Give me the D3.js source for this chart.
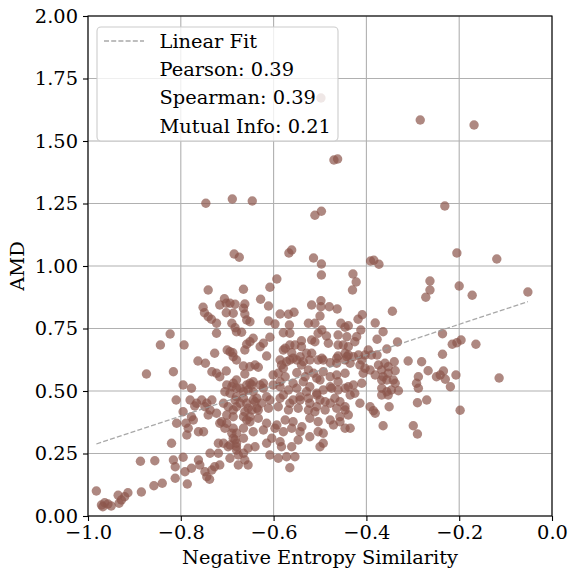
<!DOCTYPE html>
<html><head><meta charset="utf-8">
<script src="https://cdn.jsdelivr.net/npm/d3@7"></script>
<style>body{margin:0;background:#fff}svg{display:block}text{font-family:"DejaVu Serif",serif;fill:#000}</style>
</head><body><svg id="c" width="577" height="577"></svg>
<script>
// [negative entropy similarity, AMD]
const pairs = [
[-0.498,1.672],[-0.284,1.584],[-0.168,1.564],[-0.470,1.424],[-0.462,1.428],
[-0.746,1.251],[-0.689,1.268],[-0.646,1.260],[-0.511,1.203],[-0.497,1.219],[-0.231,1.240],
[-0.685,1.048],[-0.674,1.035],[-0.567,1.052],[-0.561,1.064],[-0.514,1.032],[-0.497,1.008],[-0.497,0.964],
[-0.593,0.948],[-0.608,0.915],[-0.665,0.907],[-0.741,0.904],
[-0.429,0.968],[-0.422,0.936],[-0.430,0.904],
[-0.391,1.020],[-0.384,1.023],[-0.373,1.007],
[-0.263,0.940],[-0.263,0.904],[-0.205,1.052],[-0.200,0.920],[-0.119,1.028],
[-0.172,0.883],[-0.052,0.896],
[-0.236,0.729],[-0.196,0.704],[-0.205,0.693],[-0.215,0.687],[-0.164,0.687],[-0.236,0.647],[-0.234,0.580],[-0.241,0.564],[-0.230,0.547],[-0.207,0.564],[-0.219,0.517],[-0.114,0.552],[-0.198,0.423],
[-0.272,0.875],[-0.344,0.819],[-0.409,0.805],[-0.418,0.787],[-0.439,0.761],[-0.381,0.772],[-0.412,0.744],[-0.364,0.737],[-0.377,0.707],[-0.421,0.717],[-0.425,0.697],[-0.439,0.677],[-0.333,0.696],
[-0.356,0.668],[-0.396,0.664],[-0.403,0.644],[-0.417,0.644],[-0.428,0.637],[-0.439,0.644],[-0.389,0.644],[-0.377,0.644],
[-0.446,0.624],[-0.410,0.624],[-0.414,0.604],[-0.340,0.617],[-0.310,0.620],[-0.281,0.617],
[-0.374,0.604],[-0.360,0.611],[-0.353,0.597],[-0.367,0.584],[-0.338,0.581],[-0.353,0.571],
[-0.403,0.591],[-0.392,0.584],[-0.407,0.571],
[-0.267,0.581],[-0.249,0.557],[-0.288,0.557],
[-0.381,0.564],[-0.364,0.557],[-0.356,0.544],[-0.367,0.544],[-0.342,0.544],[-0.338,0.531],
[-0.292,0.531],[-0.288,0.511],
[-0.439,0.517],[-0.428,0.524],[-0.410,0.531],[-0.425,0.491],[-0.435,0.484],
[-0.367,0.511],[-0.356,0.497],[-0.346,0.504],[-0.331,0.501],[-0.367,0.484],[-0.353,0.484],
[-0.414,0.451],[-0.446,0.424],[-0.392,0.437],[-0.385,0.421],[-0.381,0.411],[-0.351,0.437],
[-0.290,0.453],[-0.270,0.464],[-0.439,0.404],[-0.435,0.351],[-0.446,0.351],[-0.364,0.361],[-0.299,0.361],[-0.290,0.328],
[-0.628,0.867],[-0.611,0.840],[-0.683,0.847],[-0.662,0.848],[-0.665,0.831],[-0.694,0.851],[-0.687,0.811],[-0.690,0.771],
[-0.662,0.808],[-0.658,0.784],[-0.651,0.777],[-0.611,0.780],[-0.597,0.768],[-0.586,0.808],[-0.568,0.807],[-0.556,0.815],[-0.566,0.764],
[-0.518,0.844],[-0.498,0.861],[-0.498,0.837],[-0.480,0.837],[-0.463,0.828],[-0.500,0.800],[-0.511,0.771],[-0.525,0.771],[-0.455,0.771],[-0.446,0.755],
[-0.680,0.737],[-0.669,0.735],[-0.644,0.711],[-0.651,0.697],[-0.658,0.687],[-0.662,0.664],[-0.622,0.691],[-0.608,0.715],[-0.629,0.677],
[-0.579,0.733],[-0.565,0.731],[-0.540,0.701],[-0.554,0.684],[-0.575,0.671],[-0.561,0.653],[-0.540,0.677],[-0.529,0.651],[-0.518,0.704],[-0.511,0.697],
[-0.504,0.731],[-0.486,0.720],[-0.496,0.744],[-0.461,0.724],[-0.442,0.717],[-0.450,0.684],[-0.446,0.651],[-0.461,0.640],
[-0.694,0.657],[-0.687,0.637],[-0.680,0.624],[-0.615,0.640],
[-0.586,0.624],[-0.579,0.591],[-0.565,0.624],[-0.550,0.624],[-0.540,0.604],[-0.522,0.624],[-0.504,0.624],[-0.493,0.624],[-0.478,0.613],[-0.464,0.611],
[-0.665,0.600],[-0.651,0.597],[-0.633,0.595],[-0.662,0.568],
[-0.590,0.571],[-0.575,0.557],[-0.550,0.573],[-0.532,0.557],[-0.514,0.571],[-0.500,0.544],[-0.478,0.557],[-0.464,0.564],[-0.446,0.571],
[-0.680,0.544],[-0.651,0.531],[-0.622,0.531],
[-0.690,0.517],[-0.672,0.511],[-0.655,0.504],[-0.622,0.511],[-0.586,0.517],[-0.568,0.504],[-0.550,0.511],[-0.529,0.497],[-0.507,0.491],[-0.493,0.504],[-0.475,0.511],[-0.461,0.504],[-0.446,0.511],
[-0.683,0.464],[-0.665,0.471],[-0.644,0.464],[-0.626,0.451],[-0.608,0.464],[-0.586,0.471],[-0.565,0.451],[-0.543,0.464],[-0.522,0.451],[-0.500,0.464],[-0.478,0.451],[-0.457,0.457],
[-0.680,0.437],[-0.655,0.431],[-0.633,0.424],[-0.611,0.431],[-0.590,0.437],[-0.568,0.424],[-0.547,0.431],[-0.525,0.424],[-0.511,0.417],[-0.489,0.424],[-0.464,0.431],[-0.446,0.437],
[-0.687,0.397],[-0.665,0.397],[-0.651,0.377],[-0.633,0.391],[-0.615,0.371],[-0.593,0.364],[-0.575,0.384],[-0.558,0.377],[-0.539,0.357],[-0.522,0.391],[-0.504,0.377],[-0.478,0.384],[-0.457,0.377],
[-0.687,0.351],[-0.665,0.351],[-0.644,0.337],[-0.622,0.344],[-0.597,0.351],[-0.579,0.337],[-0.561,0.351],[-0.543,0.337],[-0.522,0.317],[-0.504,0.337],[-0.493,0.331],[-0.471,0.364],[-0.457,0.397],
[-0.687,0.311],[-0.680,0.277],[-0.655,0.271],[-0.640,0.277],[-0.615,0.291],[-0.604,0.311],[-0.586,0.297],[-0.583,0.277],[-0.561,0.277],[-0.547,0.304],[-0.500,0.277],[-0.493,0.291],
[-0.676,0.244],[-0.662,0.224],[-0.676,0.204],[-0.655,0.204],[-0.608,0.244],[-0.590,0.231],[-0.572,0.237],[-0.554,0.237],[-0.565,0.193],
[-0.816,0.577],[-0.795,0.524],[-0.777,0.511],[-0.810,0.464],[-0.780,0.464],[-0.766,0.451],[-0.755,0.464],[-0.744,0.451],[-0.733,0.464],
[-0.795,0.417],[-0.777,0.397],[-0.773,0.384],[-0.789,0.371],[-0.784,0.351],[-0.809,0.371],
[-0.748,0.437],[-0.737,0.424],[-0.723,0.411],[-0.712,0.377],
[-0.762,0.337],[-0.751,0.337],[-0.787,0.324],
[-0.705,0.351],[-0.690,0.331],[-0.683,0.304],[-0.694,0.284],[-0.708,0.291],[-0.719,0.291],[-0.820,0.291],
[-0.856,0.221],[-0.816,0.224],[-0.812,0.197],[-0.795,0.235],
[-0.791,0.177],[-0.777,0.191],[-0.762,0.224],[-0.759,0.204],[-0.737,0.251],[-0.719,0.251],[-0.716,0.204],[-0.748,0.177],[-0.733,0.184],[-0.812,0.151],
[-0.701,0.524],[-0.687,0.531],[-0.658,0.524],[-0.694,0.491],[-0.680,0.477],[-0.665,0.497],[-0.708,0.451],[-0.698,0.437],[-0.687,0.424],[-0.672,0.451],[-0.701,0.404],[-0.658,0.384],
[-0.701,0.371],[-0.680,0.331],[-0.680,0.291],[-0.665,0.311],[-0.680,0.264],[-0.665,0.251],[-0.694,0.231],[-0.744,0.157],
[-0.752,0.835],[-0.749,0.813],[-0.741,0.797],[-0.723,0.771],[-0.716,0.844],[-0.702,0.851],[-0.702,0.813],
[-0.723,0.731],[-0.823,0.728],[-0.844,0.684],[-0.793,0.684],[-0.727,0.651],[-0.700,0.664],[-0.688,0.653],
[-0.763,0.620],[-0.747,0.611],[-0.874,0.568],[-0.733,0.577],[-0.723,0.571],[-0.716,0.557],[-0.702,0.580],
[-0.770,0.440],[-0.741,0.404],[-0.716,0.371],[-0.698,0.277],
[-0.887,0.219],[-0.738,0.147],[-0.727,0.197],
[-0.786,0.128],[-0.840,0.131],[-0.858,0.121],[-0.885,0.096],[-0.914,0.093],[-0.921,0.077],[-0.928,0.064],[-0.935,0.083],[-0.933,0.051],
[-0.982,0.100],[-0.971,0.044],[-0.964,0.053],[-0.957,0.048],[-0.968,0.037],[-0.950,0.040],
[-0.706,0.869],[-0.734,0.787],[-0.683,0.753],
[-0.579,0.664],[-0.565,0.684],[-0.482,0.691],[-0.461,0.684],[-0.640,0.604],[-0.583,0.604],[-0.572,0.617],[-0.558,0.631],
[-0.543,0.637],[-0.536,0.617],[-0.518,0.651],[-0.496,0.631],[-0.464,0.631],[-0.442,0.637],[-0.435,0.611],[-0.601,0.564],
[-0.525,0.584],[-0.507,0.551],[-0.493,0.577],[-0.461,0.537],[-0.644,0.537],[-0.629,0.524],[-0.601,0.524],[-0.586,0.537],
[-0.558,0.531],[-0.536,0.537],[-0.522,0.517],[-0.478,0.517],[-0.636,0.471],[-0.615,0.477],[-0.579,0.484],[-0.558,0.464],
[-0.543,0.477],[-0.525,0.471],[-0.507,0.484],[-0.489,0.457],[-0.468,0.471],[-0.636,0.431],[-0.507,0.437],
[-0.680,0.511],[-0.647,0.524],[-0.705,0.497],[-0.644,0.497],[-0.658,0.451],[-0.640,0.457],[-0.662,0.417],[-0.647,0.424],[-0.651,0.397]
];
const fitIntercept = 0.889;
const fitSlope = 0.612;
const xTicks = [-1.0,-0.8,-0.6,-0.4,-0.2,0.0];
const yTicks = [0,0.25,0.5,0.75,1.0,1.25,1.5,1.75,2.0];
const legendLabels = ["Linear Fit","Pearson: 0.39","Spearman: 0.39","Mutual Info: 0.21"];
const xLabel = "Negative Entropy Similarity";
const yLabel = "AMD";

const svg = d3.select("#c");
const L=88, R=552, T=16, B=516;
const x = d3.scaleLinear().domain([-1,0]).range([L,R]);
const y = d3.scaleLinear().domain([0,2]).range([B,T]);
const fs = 19.4;

// grid
const g = svg.append("g");
g.selectAll("line.gx").data(xTicks).join("line")
  .attr("x1",d=>x(d)).attr("x2",d=>x(d)).attr("y1",T).attr("y2",B)
  .attr("stroke","#b0b0b0").attr("stroke-width",1.1);
g.selectAll("line.gy").data(yTicks).join("line")
  .attr("y1",d=>y(d)).attr("y2",d=>y(d)).attr("x1",L).attr("x2",R)
  .attr("stroke","#b0b0b0").attr("stroke-width",1.1);

// points
svg.append("g").selectAll("circle").data(pairs).join("circle")
  .attr("cx",d=>x(d[0])).attr("cy",d=>y(d[1])).attr("r",4.7)
  .attr("fill","#8c564b").attr("fill-opacity",0.7);

// fit line
const xs = pairs.map(d=>d[0]);
const x0 = d3.min(xs), x1 = d3.max(xs);
svg.append("line")
  .attr("x1",x(x0)).attr("y1",y(fitIntercept+fitSlope*x0))
  .attr("x2",x(x1)).attr("y2",y(fitIntercept+fitSlope*x1))
  .attr("stroke","#999").attr("stroke-opacity",0.85).attr("stroke-width",1.3)
  .attr("stroke-dasharray","5,2.2");

// axes
const fmtX = d=>d3.format(".1f")(d).replace("-","\u2212");
const xAxis = d3.axisBottom(x).tickValues(xTicks).tickFormat(fmtX).tickSize(5).tickPadding(4);
const yAxis = d3.axisLeft(y).tickValues(yTicks).tickFormat(d3.format(".2f")).tickSize(5).tickPadding(5);
const ax = svg.append("g").attr("transform",`translate(0,${B})`).call(xAxis);
const ay = svg.append("g").attr("transform",`translate(${L},0)`).call(yAxis);
[ax,ay].forEach(a=>{
  a.select(".domain").remove();
  a.selectAll(".tick line").attr("stroke","#000").attr("stroke-width",1.1);
  a.selectAll(".tick text").attr("font-family","DejaVu Serif").attr("font-size",fs).attr("fill","#000");
});
// spines
svg.append("rect").attr("x",L).attr("y",T).attr("width",R-L).attr("height",B-T)
  .attr("fill","none").attr("stroke","#000").attr("stroke-width",1.1);

// labels
svg.append("text").attr("x",(L+R)/2).attr("y",564).attr("text-anchor","middle")
  .attr("font-size",fs).text(xLabel);
svg.append("text").attr("transform",`translate(24,${(T+B)/2}) rotate(-90)`).attr("text-anchor","middle")
  .attr("font-size",fs).text(yLabel);

// legend
const lg = svg.append("g");
lg.append("rect").attr("x",97).attr("y",27).attr("width",241).attr("height",114).attr("rx",4)
  .attr("fill","#fff").attr("fill-opacity",0.8).attr("stroke","#cccccc").attr("stroke-width",1.1);
lg.append("line").attr("x1",104).attr("x2",144).attr("y1",41).attr("y2",41)
  .attr("stroke","#999").attr("stroke-opacity",0.85).attr("stroke-width",1.3).attr("stroke-dasharray","5,2.2");
lg.selectAll("text").data(legendLabels).join("text")
  .attr("x",159.5).attr("y",(d,i)=>41+i*28.3).attr("dy","0.35em")
  .attr("font-size",fs).text(d=>d);
</script></body></html>
